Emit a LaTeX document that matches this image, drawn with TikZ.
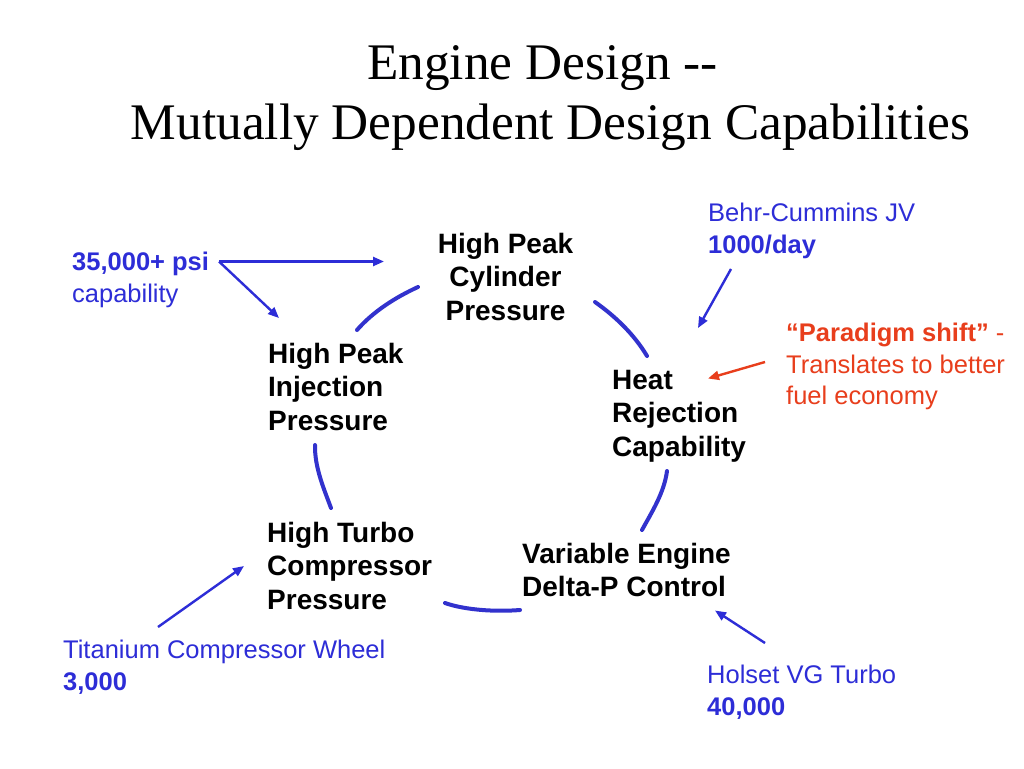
\documentclass[tikz,border=0pt]{standalone}
\usepackage{fontspec}
\setmainfont{Liberation Serif}
\newfontfamily\arialfont{Liberation Sans}
\usetikzlibrary{arrows.meta}
\definecolor{lblue}{RGB}{45,45,215}
\definecolor{lred}{RGB}{232,62,28}
\definecolor{arcblue}{RGB}{50,50,205}
\tikzset{
  bodytext/.style={font=\arialfont\bfseries\fontsize{28}{33.4}\selectfont, inner sep=0pt, align=left, anchor=north west, text=black},
  notetext/.style={font=\arialfont\fontsize{25.5}{31.5}\selectfont, inner sep=0pt, align=left, anchor=north west},
  pointer/.style={line width=2.4pt, -{Triangle[length=11pt,width=9pt]}},
  cyclearc/.style={line width=4pt, draw=arcblue, line cap=round}
}
\begin{document}
\begin{tikzpicture}[x=1pt,y=-1pt]
\useasboundingbox (0,0) rectangle (1024,768);
\fill[white] (0,0) rectangle (1024,768);

% title
\node[font=\fontsize{51.3}{60}\selectfont, inner sep=0pt, align=center, anchor=north] (title) at (550.5,45)
  {Engine Design {-}{-}\hspace*{16pt}\\Mutually Dependent Design Capabilities};

% main nodes
\node[bodytext, align=center, anchor=north] (hpc) at (505.5,232.8) {High Peak\\Cylinder\\Pressure};
\node[bodytext] (hpi) at (268,342.8) {High Peak\\Injection\\Pressure};
\node[bodytext] (heat) at (612,369.8) {Heat\\Rejection\\Capability};
\node[bodytext] (hpt) at (267,521.8) {High Turbo\\Compressor\\Pressure};
\node[bodytext] (var) at (522,542.8) {Variable Engine\\Delta-P Control};

% notes
\node[notetext, text=lblue] (psi) at (72,252) {\textbf{35,000+ psi}\\capability};
\node[notetext, text=lblue] (behr) at (708,203) {Behr-Cummins JV\\\textbf{1000/day}};
\node[notetext, text=lred] (para) at (786,323) {\textbf{“Paradigm shift”} -\\Translates to better\\fuel economy};
\node[notetext, text=lblue] (ti) at (63,640) {Titanium Compressor Wheel\\\textbf{3,000}};
\node[notetext, text=lblue] (hol) at (707,665) {Holset VG Turbo\\\textbf{40,000}};

% pointer end points
\coordinate (psiA) at (219,261.5);
\coordinate (psiB) at (384,261.5);
\coordinate (psiC) at (279,318);
\coordinate (behrA) at (731,269);
\coordinate (behrB) at (698,328);
\coordinate (paraA) at (765,362);
\coordinate (paraB) at (708,378.5);
\coordinate (tiA) at (158,627);
\coordinate (tiB) at (244,566);
\coordinate (holA) at (765,643);
\coordinate (holB) at (715,610.5);

\draw[pointer, draw=lblue, fill=lblue] (psiA) -- (psiB);
\draw[pointer, draw=lblue, fill=lblue] (psiA) -- (psiC);
\draw[pointer, draw=lblue, fill=lblue] (behrA) -- (behrB);
\draw[pointer, draw=lred, fill=lred] (paraA) -- (paraB);
\draw[pointer, draw=lblue, fill=lblue] (tiA) -- (tiB);
\draw[pointer, draw=lblue, fill=lblue] (holA) -- (holB);

% cycle arcs
\coordinate (a1s) at (357,330);  \coordinate (a1e) at (418,287);
\coordinate (a2s) at (595,302);  \coordinate (a2e) at (647,356);
\coordinate (a3s) at (315,445);  \coordinate (a3e) at (331,508);
\coordinate (a4s) at (667,471);  \coordinate (a4e) at (642,530);
\coordinate (a5s) at (445,603);  \coordinate (a5e) at (520,610);
\draw[cyclearc] (a1s) .. controls (373.4,311.3) and (395.4,297.4) .. (a1e);
\draw[cyclearc] (a2s) .. controls (615.3,316.3) and (634.3,334.6) .. (a2e);
\draw[cyclearc] (a3s) .. controls (314.6,467.1) and (323.3,487.3) .. (a3e);
\draw[cyclearc] (a4s) .. controls (664.1,492.7) and (652.5,510.8) .. (a4e);
\draw[cyclearc] (a5s) .. controls (465,610) and (495,612) .. (a5e);
\end{tikzpicture}
\end{document}
